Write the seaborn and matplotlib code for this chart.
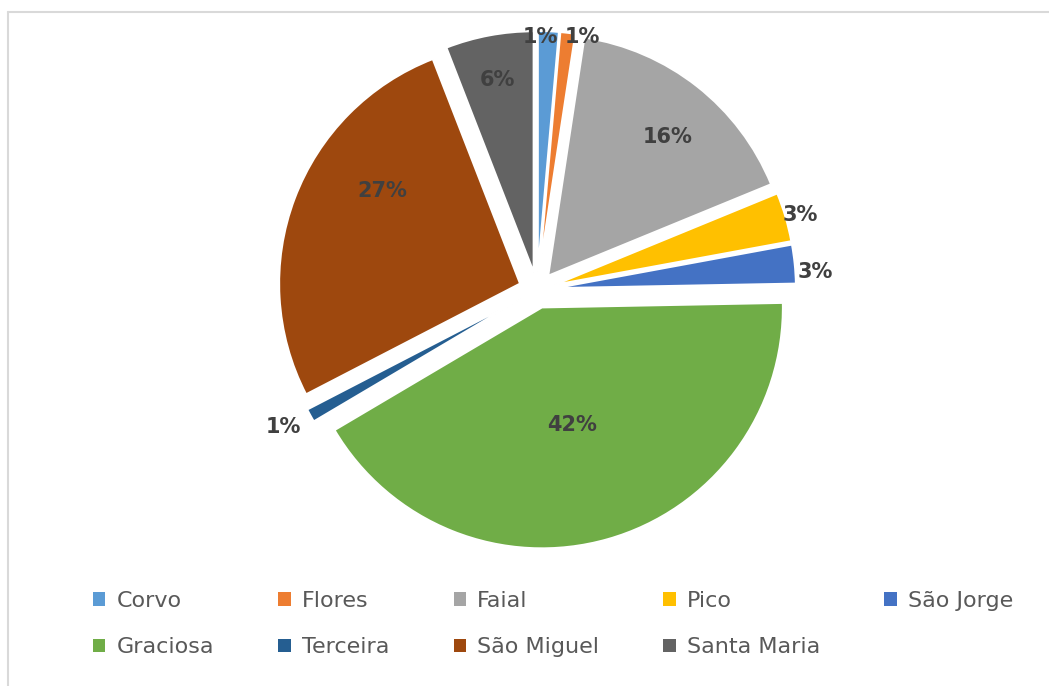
import numpy as np
import matplotlib.pyplot as plt
import seaborn as sb
from matplotlib.patches import Patch
from matplotlib.lines import Line2D

sb.set_style('white')
plt.rcParams['font.family'] = ['DejaVu Sans']

islands = ['Corvo', 'Flores', 'Faial', 'Pico', 'São Jorge',
           'Graciosa', 'Terceira', 'São Miguel', 'Santa Maria']
shares = [1.4, 1.0, 16.4, 3.3, 2.6, 41.8, 0.9, 26.7, 5.9]
colors = ['#5B9BD5', '#ED7D31', '#A5A5A5', '#FFC000', '#4472C4',
          '#70AD47', '#255E91', '#9E480E', '#636363']
# label placement: distance from wedge vertex (radii) and turn from mid angle (deg)
label_dist = [0.975, 0.99, 0.76, 1.06, 1.08, 0.505, 1.12, 0.69, 0.81]
label_turn = [1.8, -3.6, -2.6, -0.5, -2.3, -1.5, -0.7, -13.1, 0.0]

fig = plt.figure(figsize=(10.49, 6.86), dpi=100)

# pie axes, square in pixels
R = 241
lim = 1.3
size = 2 * lim * R
cx, cy = 537, 290
ax = fig.add_axes([(cx - size / 2) / 1049, (686 - cy - size / 2) / 686,
                   size / 1049, size / 686])

wedges, _ = ax.pie(shares, colors=colors, startangle=90, counterclock=False,
                   explode=[0.075] * len(shares),
                   wedgeprops=dict(edgecolor='white', linewidth=1.5))
ax.set_xlim(-lim, lim)
ax.set_ylim(-lim, lim)
ax.set_aspect('equal')
ax.axis('off')

for w, val, d, turn in zip(wedges, shares, label_dist, label_turn):
    mid = np.deg2rad((w.theta1 + w.theta2) / 2 + turn)
    x = w.center[0] + d * w.r * np.cos(mid)
    y = w.center[1] + d * w.r * np.sin(mid)
    ax.text(x, y, f'{val:.0f}%', ha='center', va='center',
            fontsize=15, fontweight='bold', color='#404040')

# legend, ordered so that it reads row by row
order = [0, 5, 1, 6, 2, 7, 3, 8, 4]
handles = [Patch(facecolor=colors[i], edgecolor='none', label=islands[i]) for i in order]
fig.legend(handles=handles, loc='center', ncol=5,
           bbox_to_anchor=(553 / 1049, 1 - 624 / 686),
           frameon=False, fontsize=16, labelcolor='#595959',
           handlelength=0.55, handleheight=0.55, handletextpad=0.5,
           columnspacing=2.9, labelspacing=1.2)

# chart frame (top and left edges visible)
fig.add_artist(Line2D([8 / 1049, 1], [1 - 12 / 686, 1 - 12 / 686],
                      color='#D9D9D9', linewidth=1.5, transform=fig.transFigure))
fig.add_artist(Line2D([8 / 1049, 8 / 1049], [0, 1 - 12 / 686],
                      color='#D9D9D9', linewidth=1.5, transform=fig.transFigure))

fig.savefig('out.png', dpi=100)
